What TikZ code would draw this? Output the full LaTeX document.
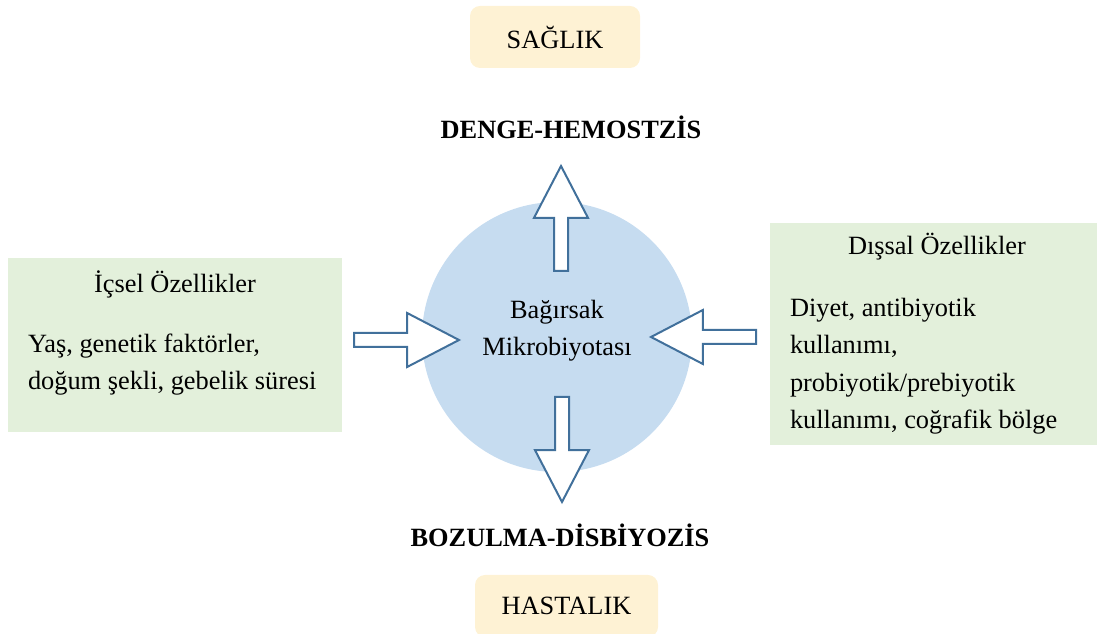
\documentclass[tikz,border=0pt]{standalone}
\usepackage{fontspec}
\setmainfont{Liberation Serif}
\usetikzlibrary{shapes.arrows}
\definecolor{krem}{HTML}{FEF2D4}
\definecolor{yesil}{HTML}{E3F0DB}
\definecolor{mavi}{HTML}{C6DCF0}
\definecolor{okmavi}{HTML}{41709B}
\begin{document}
\begin{tikzpicture}
  \tikzset{BoxStyle/.style = {shape = rectangle,fill=yesil,inner sep=0pt},
    StateStyle/.style = {shape = rectangle,fill=krem,rounded corners=0.2cm,inner sep=0pt,font=\fontsize{15}{21}\selectfont},
    TextStyle/.style = {inner sep=0pt,font=\fontsize{15}{21}\selectfont},
    ArrowStyle/.style = {single arrow,draw=okmavi,fill=white,line width=0.04cm,inner sep=0.12cm,
      minimum height=2.1cm,minimum width=1.04cm,single arrow head extend=0.4cm,single arrow tip angle=55,anchor=tail}}
\useasboundingbox (0,0) rectangle (21.94,12.68);
\node[StateStyle,minimum width=3.4cm,minimum height=1.24cm] (saglik) at (11.1,11.94) {SAĞLIK};
\node[StateStyle,minimum width=3.66cm,minimum height=1.24cm] (hastalik) at (11.33,0.56) {HASTALIK};
\node[TextStyle,font=\fontsize{15}{21}\selectfont\bfseries] (denge) at (11.42,10.14) {DENGE-HEMOSTZİS};
\node[TextStyle,font=\fontsize{15}{21}\selectfont\bfseries] (bozulma) at (11.2,1.98) {BOZULMA-DİSBİYOZİS};
%
\node[shape=circle,fill=mavi,minimum size=5.4cm,inner sep=0pt] (mikro) at (11.14,5.94) {};
\node[TextStyle,align=center] (mikroText) at (11.14,6.06) {Bağırsak\\Mikrobiyotası};
%
\node[BoxStyle,minimum width=6.68cm,minimum height=3.48cm] (icsel) at (3.5,5.78) {};
\node[TextStyle,anchor=base] (icselTitle) at ([yshift=-0.7cm]icsel.north) {İçsel Özellikler};
\node[TextStyle,anchor=north west,align=left] (icselText) at ([xshift=0.4cm,yshift=-1.52cm]icsel.north west)
  {Yaş, genetik faktörler,\\doğum şekli, gebelik süresi};
\node[BoxStyle,minimum width=6.54cm,minimum height=4.44cm] (dissal) at (18.67,6.0) {};
\node[TextStyle,anchor=base] (dissalTitle) at ([xshift=0.07cm,yshift=-0.64cm]dissal.north) {Dışsal Özellikler};
\node[TextStyle,font=\fontsize{15}{21.3}\selectfont,anchor=north west,align=left] (dissalText)
  at ([xshift=0.4cm,yshift=-1.5cm]dissal.north west)
  {Diyet, antibiyotik\\kullanımı,\\probiyotik/prebiyotik\\kullanımı, coğrafik bölge};
%
\node[ArrowStyle,shape border rotate=90] (okUp) at (11.22,7.24) {};
\node[ArrowStyle,shape border rotate=270] (okDown) at (11.24,4.76) {};
\node[ArrowStyle,shape border rotate=0] (okIcsel) at (7.06,5.88) {};
\node[ArrowStyle,shape border rotate=180] (okDissal) at (15.14,5.94) {};
\end{tikzpicture}
\end{document}
